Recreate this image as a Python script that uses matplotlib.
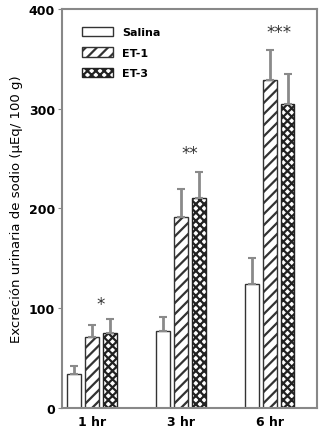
# Sodium excretion bar chart (Salina / ET-1 / ET-3)
import numpy as np
import matplotlib.pyplot as plt

# data
times = ['1 hr', '3 hr', '6 hr']
salina = [34, 77, 124]
salina_err = [8, 14, 26]
et1 = [71, 191, 329]
et1_err = [12, 29, 30]
et3 = [75, 210, 305]
et3_err = [14, 27, 30]
stars = ['*', '**', '***']
star_y = [104, 256, 377]

plt.rcParams['font.family'] = ['DejaVu Sans']
plt.rcParams['hatch.linewidth'] = 1.6

fig = plt.figure(figsize=(3.25, 4.31), dpi=100)
ax = fig.add_axes([0.191, 0.051, 0.784, 0.926])

x = np.arange(len(times))
w = 0.155
step = 0.2
ecol = '#8a8a8a'
err_kw = dict(ecolor=ecol, capsize=3, elinewidth=2, capthick=1.5)

ax.bar(x - step, salina, w, color='white', edgecolor='#333333', lw=1,
       yerr=[np.zeros(3), salina_err], error_kw=err_kw, label='Salina')
ax.bar(x, et1, w, color='white', edgecolor='#333333', lw=1, hatch='///',
       yerr=[np.zeros(3), et1_err], error_kw=err_kw, label='ET-1')
ax.bar(x + step, et3, w, color='white', edgecolor='#222222', lw=1, hatch='xxxx',
       yerr=[np.zeros(3), et3_err], error_kw=err_kw, label='ET-3')

for xi, s, yy in zip(x, stars, star_y):
    ax.text(xi + 0.1, yy, s, ha='center', va='center', fontsize=12, color='#333333')

ax.set_xlim(-0.337, 2.53)
ax.set_ylim(0, 400)
ax.set_yticks([0, 100, 200, 300, 400])
ax.set_xticks(x)
ax.set_xticklabels(times, fontsize=9, fontweight='bold')
ax.tick_params(axis='x', length=0, pad=5)
ax.tick_params(axis='y', length=3, color=ecol, labelsize=9, pad=2)
for lbl in ax.get_yticklabels():
    lbl.set_fontweight('bold')
for sp in ax.spines.values():
    sp.set_color('#888888')
    sp.set_linewidth(1.5)
ax.set_ylabel('Excreción urinaria de sodio (µEq/ 100 g)', fontsize=9.5, labelpad=4)

ax.legend(loc='upper left', frameon=False, prop={'size': 8, 'weight': 'bold'},
          handlelength=2.8, handleheight=0.9, bbox_to_anchor=(0.04, 0.98),
          labelspacing=0.9)

plt.savefig('out.png', dpi=100)
